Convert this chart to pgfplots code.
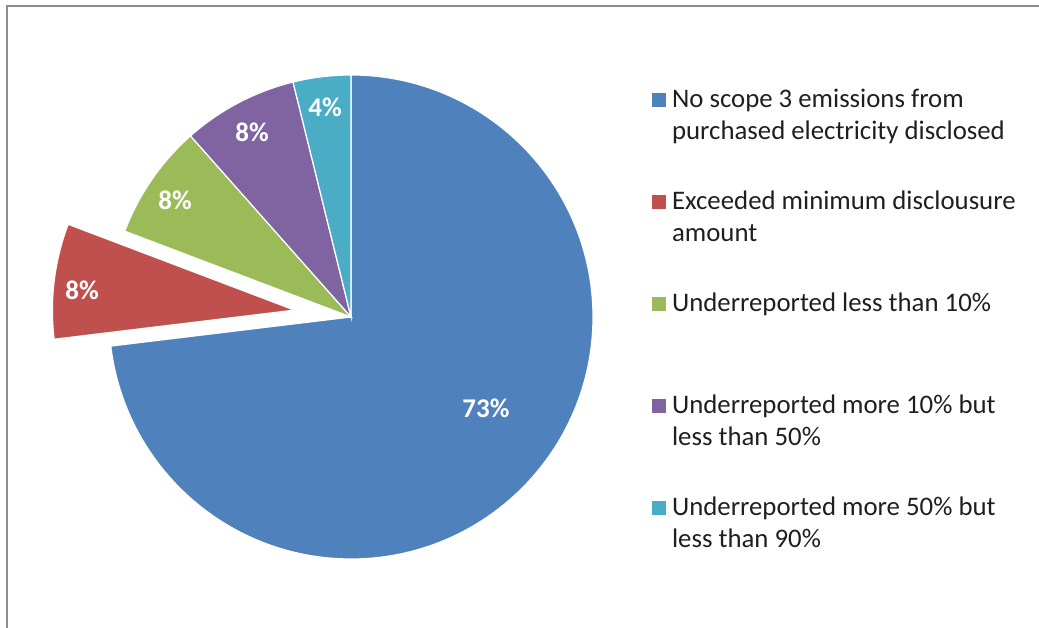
\documentclass[border=0pt]{standalone}
\usepackage{fontspec}
\setmainfont{Carlito}
\usepackage{pgfplots}
\pgfplotsset{compat=1.18}
\definecolor{pblue}{HTML}{4F81BD}
\definecolor{pred}{HTML}{C0504D}
\definecolor{pgreen}{HTML}{9BBB59}
\definecolor{ppurple}{HTML}{8064A2}
\definecolor{pcyan}{HTML}{4BACC6}
\definecolor{framegray}{HTML}{8C8C8C}
% data (percent shares)
\def\vA{73.08}% No scope 3 emissions ...
\def\vB{7.69}% Exceeded minimum ...
\def\vC{7.69}% Underreported < 10%
\def\vD{7.69}% 10-50%
\def\vE{3.85}% 50-90%
\pgfmathsetmacro\aA{90}
\pgfmathsetmacro\aB{\aA-3.6*\vA}
\pgfmathsetmacro\aC{\aB-3.6*\vB}
\pgfmathsetmacro\aD{\aC-3.6*\vC}
\pgfmathsetmacro\aE{\aD-3.6*\vD}
\pgfmathsetmacro\aF{\aE-3.6*\vE}
\pgfmathsetmacro\aRedMid{(\aB+\aC)/2}
\def\R{242pt}
\begin{document}
\begin{tikzpicture}
\begin{axis}[
  width=1039pt, height=628pt, scale only axis,
  xmin=0, xmax=1039, ymin=0, ymax=628,
  hide axis, clip=false,
  legend style={draw=none, fill=none, inner sep=0pt, outer sep=0pt,
    row sep=0pt, column sep=7pt,
    at={(0.6272,0.8631)}, anchor=north west,
    cells={anchor=base west},
    nodes={inner sep=0pt, text height=22pt, text depth=80pt,
      font=\fontsize{26.8}{32}\selectfont, text=black!88}},
]
% frame
\draw[framegray, line width=2.3pt] (axis cs:7,0) |- (axis cs:1039,621.8);
% slices
\fill[pblue, draw=white, line width=1.2pt] (axis cs:351,311) -- ++(\aA:\R) arc[start angle=\aA, end angle=\aB, radius=\R] -- cycle;
\fill[pred, draw=white, line width=1.2pt, shift={(\aRedMid:57pt)}] (axis cs:351,311) -- ++(\aB:\R) arc[start angle=\aB, end angle=\aC, radius=\R] -- cycle;
\fill[pgreen, draw=white, line width=1.2pt] (axis cs:351,311) -- ++(\aC:\R) arc[start angle=\aC, end angle=\aD, radius=\R] -- cycle;
\fill[ppurple, draw=white, line width=1.2pt] (axis cs:351,311) -- ++(\aD:\R) arc[start angle=\aD, end angle=\aE, radius=\R] -- cycle;
\fill[pcyan, draw=white, line width=1.2pt] (axis cs:351,311) -- ++(\aE:\R) arc[start angle=\aE, end angle=\aF, radius=\R] -- cycle;
% labels
\begin{scope}[every node/.style={text=white, font=\fontsize{27}{30}\selectfont\bfseries}]
\node at (axis cs:486,220) {73\%};
\node at (axis cs:82,338) {8\%};
\node at (axis cs:175,428) {8\%};
\node at (axis cs:252,496) {8\%};
\node at (axis cs:325,521) {4\%};
\end{scope}
% legend
\addlegendimage{legend image code/.code={\fill[pblue] (0pt,2pt) rectangle (13pt,15pt);}}
\addlegendentry{\parbox[t]{360pt}{No scope 3 emissions from\\purchased electricity disclosed}}
\addlegendimage{legend image code/.code={\fill[pred] (0pt,2pt) rectangle (13pt,15pt);}}
\addlegendentry{\parbox[t]{360pt}{Exceeded minimum disclousure\\amount}}
\addlegendimage{legend image code/.code={\fill[pgreen] (0pt,2pt) rectangle (13pt,15pt);}}
\addlegendentry{\parbox[t]{360pt}{Underreported less than 10\%}}
\addlegendimage{legend image code/.code={\fill[ppurple] (0pt,2pt) rectangle (13pt,15pt);}}
\addlegendentry{\parbox[t]{360pt}{Underreported more 10\% but\\less than 50\%}}
\addlegendimage{legend image code/.code={\fill[pcyan] (0pt,2pt) rectangle (13pt,15pt);}}
\addlegendentry{\parbox[t]{360pt}{Underreported more 50\% but\\less than 90\%}}
\end{axis}
\pgfresetboundingbox
\path (current axis.south west) rectangle (current axis.north east);
\end{tikzpicture}
\end{document}
